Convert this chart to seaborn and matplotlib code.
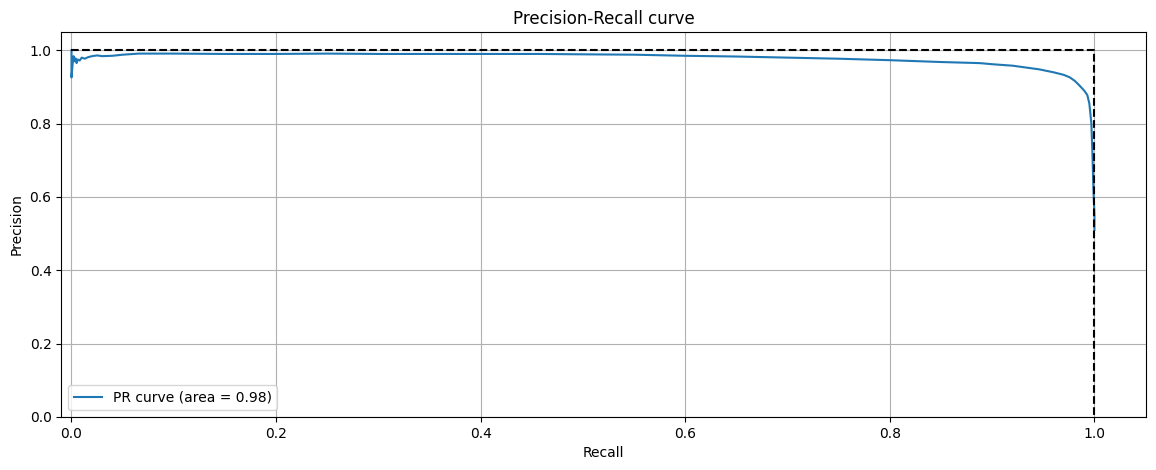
import numpy as np
import pandas as pd
import matplotlib
matplotlib.use('Agg')
import matplotlib.pyplot as plt
import seaborn as sb

# PR curve points
recall = [0.0, 0.0, 0.001, 0.002, 0.003, 0.004, 0.005, 0.006, 0.008, 0.010,
          0.013, 0.016, 0.020, 0.025, 0.030, 0.040, 0.050, 0.066, 0.10, 0.15,
          0.20, 0.25, 0.30, 0.35, 0.40, 0.457, 0.50, 0.55, 0.60, 0.65,
          0.70, 0.75, 0.80, 0.85, 0.888, 0.90, 0.92, 0.946, 0.96, 0.970, 0.976,
          0.981, 0.985, 0.990, 0.993, 0.995, 0.997, 0.998, 0.999, 1.0, 1.0]
precision = [1.0, 0.926, 0.96, 0.984, 0.97, 0.978, 0.965, 0.975, 0.972, 0.980,
             0.977, 0.981, 0.984, 0.986, 0.984, 0.985, 0.988, 0.991, 0.991, 0.990,
             0.990, 0.991, 0.990, 0.990, 0.990, 0.990, 0.989, 0.988, 0.985, 0.983,
             0.980, 0.977, 0.973, 0.968, 0.965, 0.962, 0.958, 0.948, 0.940, 0.933, 0.926,
             0.916, 0.905, 0.890, 0.878, 0.855, 0.80, 0.72, 0.62, 0.55, 0.51]
pr_auc = 0.98


def main():
    df = pd.DataFrame({'Recall': recall, 'Precision': precision})

    plt.figure(figsize=(11.56, 4.7), dpi=100)
    ax = sb.lineplot(data=df, x='Recall', y='Precision', sort=False, estimator=None,
                     color='tab:blue', label='PR curve (area = %0.2f)' % pr_auc)
    plt.plot([0, 1, 1], [1, 1, 0], 'k--')
    plt.xlim([-0.01, 1.05])
    plt.ylim([0.0, 1.05])
    plt.xlabel('Recall')
    plt.ylabel('Precision')
    plt.title('Precision-Recall curve')
    plt.legend(loc='lower left')
    plt.grid(True)
    plt.subplots_adjust(left=0.053, right=0.991, top=0.932, bottom=0.113)
    plt.savefig('out.png')


if __name__ == '__main__':
    main()
